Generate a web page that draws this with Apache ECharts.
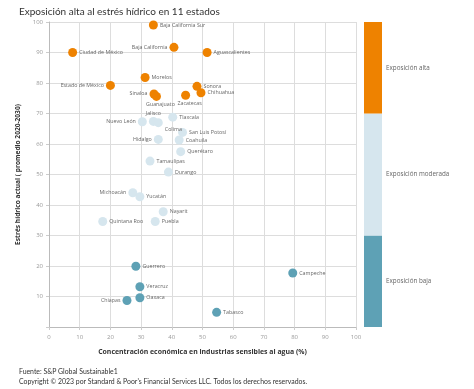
<!DOCTYPE html>
<html><head><meta charset="utf-8">
<script src="https://cdn.jsdelivr.net/npm/echarts@6/dist/echarts.min.js"></script>
<style>html,body{margin:0;padding:0;background:#fff}#c{width:474px;height:389px}</style>
</head><body><div id="c"></div>
<script>
// ---- Data ----
const altaNames = ['Baja California Sur','Baja California','Aguascalientes','Ciudad de México','Morelos','Estado de México','Sinaloa','Guanajuato','Zacatecas','Sonora','Chihuahua'];
const altaX = [34, 40.7, 51.5, 7.7, 31.3, 20, 34.2, 35, 44.5, 48.2, 49.5];
const altaY = [99, 91.7, 90, 90, 81.8, 79.2, 76.4, 75.6, 76, 78.9, 76.8];

const moderadaNames = ['Nuevo León','Jalisco','Colima','Tlaxcala','San Luis Potosí','Coahuila','Hidalgo','Querétaro','Tamaulipas','Durango','Michoacán','Yucatán','Nayarit','Quintana Roo','Puebla'];
const moderadaX = [30.4, 34, 35.6, 40.3, 43.5, 42.4, 35.6, 42.9, 32.9, 38.9, 27.3, 29.6, 37.2, 17.5, 34.6];
const moderadaY = [67.3, 67.4, 67, 68.8, 63.8, 61.3, 61.5, 57.5, 54.4, 50.8, 44, 42.7, 37.8, 34.6, 34.6];

const bajaNames = ['Guerrero','Campeche','Veracruz','Oaxaca','Chiapas','Tabasco'];
const bajaX = [28.3, 79.4, 29.6, 29.6, 25.4, 54.6];
const bajaY = [19.9, 17.7, 13.2, 9.6, 8.7, 4.8];

const bandNames = ['Exposición baja','Exposición moderada','Exposición alta'];
const bandSizes = [30, 40, 30];

const titleText = 'Exposición alta al estrés hídrico en 11 estados';
const xName = 'Concentración económica en industrias sensibles al agua (%)';
const yName = 'Estrés hídrico actual ( promedio 2020-2030)';
const source1 = 'Fuente: S&P Global Sustainable1';
const source2 = "Copyright © 2023 por Standard & Poor's Financial Services LLC. Todos los derechos reservados.";

// ---- Styles ----
const colAlta = '#EE8200', colMod = '#D6E6EE', colBaja = '#5EA1B5';
const bandColors = [colBaja, colMod, colAlta];
const labelLeft = {'Baja California':1,'Estado de México':1,'Sinaloa':1,'Nuevo León':1,'Hidalgo':1,'Michoacán':1,'Chiapas':1};
const labelBottom = {'Guanajuato':1,'Zacatecas':1};
const labelTop = {'Jalisco':1};
const labelBR = {'Colima':1};
const FONT = '"Open Sans", "Liberation Sans", sans-serif';
const TFONT = 'Lato, "Open Sans", sans-serif';

function pts(names, xs, ys){
  return names.map((n,i)=>{
    let lab = {position:'right', distance:2};
    if(labelLeft[n]) lab = {position:'left', distance:2};
    else if(labelBottom[n]) lab = {position:'bottom', distance:1, offset:[4,0]};
    else if(labelTop[n]) lab = {position:'top', distance:1};
    else if(labelBR[n]) lab = {position:'right', distance:0, offset:[2,7]};
    return {name:n, value:[xs[i], ys[i]], label:lab};
  });
}
function scatter(name, names, xs, ys, color){
  return {
    type:'scatter', name, xAxisIndex:0, yAxisIndex:0, symbolSize:9,
    itemStyle:{color, opacity:1},
    label:{show:true, formatter:'{b}', fontSize:5.3, color:'#666', fontFamily:FONT},
    data:pts(names, xs, ys), z:3
  };
}

const chart = echarts.init(document.getElementById('c'), null, {renderer:'canvas'});
const axisLbl = {fontSize:6, color:'#999', fontFamily:FONT};
chart.setOption({
  animation:false,
  textStyle:{fontFamily:FONT},
  title:{text:titleText, left:14, top:2, textStyle:{fontSize:10, fontWeight:'normal', color:'#333', fontFamily:TFONT}},
  graphic:[
    {type:'text', left:19, top:368, style:{text:source1, fontSize:6.9, fill:'#333', fontFamily:TFONT}},
    {type:'text', left:19, top:378, style:{text:source2, fontSize:6.9, fill:'#333', fontFamily:TFONT}}
  ],
  grid:[
    {left:49, right:118, top:22, bottom:62},
    {left:364, width:18, top:22, bottom:62}
  ],
  xAxis:[
    {type:'value', gridIndex:0, min:0, max:100, interval:10,
     name:xName, nameLocation:'middle', nameGap:22,
     nameTextStyle:{fontSize:6.9, fontWeight:'bold', color:'#333', fontFamily:FONT},
     axisLine:{show:true, lineStyle:{color:'#bbb'}},
     axisTick:{show:true, length:3, lineStyle:{color:'#ccc'}},
     axisLabel:Object.assign({margin:7}, axisLbl),
     splitLine:{show:true, lineStyle:{color:'#ddd', width:1}}},
    {type:'category', gridIndex:1, data:['b'], show:false}
  ],
  yAxis:[
    {type:'value', gridIndex:0, min:0, max:100, interval:10,
     name:yName, nameLocation:'middle', nameGap:17,
     nameTextStyle:{fontSize:6.6, fontWeight:'bold', color:'#333', fontFamily:FONT},
     axisLine:{show:true, lineStyle:{color:'#bbb'}},
     axisTick:{show:true, length:3, lineStyle:{color:'#ccc'}},
     axisLabel:Object.assign({margin:6, formatter:v=>v===0?'':v}, axisLbl),
     splitLine:{show:true, lineStyle:{color:'#ddd', width:1}}},
    {type:'value', gridIndex:1, min:0, max:100, show:false}
  ],
  series:[
    scatter('alta', altaNames, altaX, altaY, colAlta),
    scatter('moderada', moderadaNames, moderadaX, moderadaY, colMod),
    scatter('baja', bajaNames, bajaX, bajaY, colBaja)
  ].concat(bandNames.map((n,i)=>({
    type:'bar', xAxisIndex:1, yAxisIndex:1, stack:'band', barWidth:'100%',
    itemStyle:{color:bandColors[i]},
    label:{show:true, position:'right', distance:4, formatter:n, fontSize:6.3, color:'#666', fontFamily:FONT},
    data:[bandSizes[i]]
  })))
});
</script></body></html>
